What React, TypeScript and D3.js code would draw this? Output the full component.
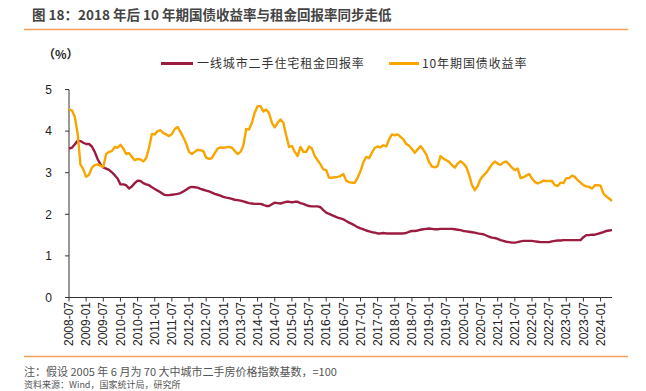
import React from 'react';
import * as d3 from 'd3';

// monthly, 2008-07 .. 2024-05
const rentYield = [
  3.58, 3.6, 3.68, 3.77, 3.76, 3.72, 3.69, 3.69, 3.63, 3.5, 3.33, 3.2,
  3.13, 3.1, 3.07, 3.01, 2.94, 2.86, 2.72, 2.72, 2.7, 2.62, 2.67, 2.75,
  2.81, 2.8, 2.75, 2.72, 2.7, 2.65, 2.61, 2.57, 2.53, 2.48, 2.46, 2.46,
  2.47, 2.48, 2.49, 2.51, 2.55, 2.59, 2.64, 2.66, 2.65, 2.64, 2.61, 2.59,
  2.57, 2.55, 2.52, 2.49, 2.47, 2.45, 2.42, 2.4, 2.39, 2.37, 2.35, 2.34,
  2.33, 2.31, 2.29, 2.27, 2.26, 2.25, 2.25, 2.25, 2.23, 2.2, 2.2, 2.24,
  2.28, 2.27, 2.26, 2.28, 2.3, 2.3, 2.29, 2.3, 2.3, 2.27, 2.25, 2.22,
  2.2, 2.19, 2.19, 2.19, 2.17, 2.1, 2.04, 2.01, 1.98, 1.95, 1.92, 1.9,
  1.88, 1.84, 1.8, 1.77, 1.73, 1.69, 1.66, 1.64, 1.61, 1.59, 1.57, 1.56,
  1.54, 1.54, 1.55, 1.54, 1.54, 1.54, 1.54, 1.54, 1.54, 1.54, 1.55, 1.58,
  1.6, 1.6, 1.61, 1.63, 1.64, 1.65, 1.66, 1.65, 1.64, 1.64, 1.65, 1.65,
  1.65, 1.65, 1.65, 1.64, 1.63, 1.62, 1.6, 1.59, 1.58, 1.57, 1.56, 1.54,
  1.53, 1.52, 1.49, 1.46, 1.44, 1.43, 1.41, 1.38, 1.36, 1.34, 1.33, 1.32,
  1.32, 1.33, 1.35, 1.36, 1.36, 1.36, 1.36, 1.35, 1.34, 1.33, 1.33, 1.33,
  1.33, 1.35, 1.36, 1.37, 1.37, 1.38, 1.38, 1.38, 1.38, 1.38, 1.38, 1.38,
  1.45, 1.5, 1.5, 1.51, 1.51, 1.53, 1.55, 1.57, 1.6, 1.61, 1.62,
];

const bondYield = [
  4.52, 4.5, 4.35, 3.95, 3.2, 3.08, 2.9, 2.95, 3.12, 3.18, 3.2, 3.17,
  3.14, 3.45, 3.5, 3.52, 3.62, 3.6, 3.67, 3.58, 3.45, 3.47, 3.38, 3.3,
  3.33, 3.32, 3.27, 3.35, 3.6, 3.93, 3.92, 4.0, 4.02, 3.95, 3.92, 3.88,
  3.93, 4.05, 4.1, 3.98, 3.85, 3.7, 3.5, 3.45, 3.5, 3.55, 3.54, 3.52,
  3.36, 3.33, 3.35, 3.47, 3.58, 3.61, 3.6, 3.61, 3.62, 3.6, 3.52, 3.45,
  3.5, 3.65, 4.05, 4.04, 4.2, 4.45, 4.6, 4.6, 4.47, 4.52, 4.43, 4.2,
  4.09, 4.2, 4.28, 4.2, 3.9, 3.62, 3.64, 3.5, 3.4, 3.62, 3.5, 3.5,
  3.63, 3.58, 3.4, 3.3, 3.2, 3.08, 3.06, 2.88, 2.88, 2.89, 2.9, 2.92,
  2.97, 2.81, 2.77, 2.76, 2.76, 2.88, 3.04, 3.25, 3.38, 3.35, 3.48, 3.6,
  3.63, 3.61, 3.66, 3.63, 3.8, 3.92, 3.9, 3.92, 3.86, 3.8, 3.69, 3.65,
  3.57, 3.48, 3.56, 3.64, 3.55, 3.44, 3.25, 3.15, 3.13, 3.16, 3.4, 3.34,
  3.3, 3.26, 3.18, 3.12, 3.22, 3.28, 3.22, 3.14, 2.95, 2.7, 2.58, 2.68,
  2.85, 2.93, 3.0, 3.1, 3.2, 3.27, 3.22, 3.19, 3.25, 3.27, 3.2, 3.12,
  3.06, 3.1, 2.87, 2.89, 2.93, 2.97, 2.86, 2.78, 2.74, 2.77, 2.81, 2.8,
  2.8, 2.8, 2.7, 2.68, 2.76, 2.75, 2.87, 2.87, 2.93, 2.9, 2.82, 2.76,
  2.7, 2.67, 2.66, 2.62, 2.7, 2.7, 2.69, 2.5, 2.43, 2.38, 2.32,
];

const tickLabels = [
  "2008-07", "2009-01", "2009-07", "2010-01", "2010-07", "2011-01", "2011-07", "2012-01",
  "2012-07", "2013-01", "2013-07", "2014-01", "2014-07", "2015-01", "2015-07", "2016-01",
  "2016-07", "2017-01", "2017-07", "2018-01", "2018-07", "2019-01", "2019-07", "2020-01",
  "2020-07", "2021-01", "2021-07", "2022-01", "2022-07", "2023-01", "2023-07", "2024-01",
];

const yTicks = [0, 1, 2, 3, 4, 5];

const seriesNames = ["一线城市二手住宅租金回报率", "10年期国债收益率"];
const colors = ["#9c1c40", "#f8a500"];

const App = () => {
  const width = 646;
  const height = 391;
  const x = d3.scaleLinear().domain([0, rentYield.length - 1]).range([69, 612]);
  const y = d3.scaleLinear().domain([0, 5]).range([297.5, 89.5]);

  const line = d3.line<number>()
    .x((d, i) => x(i))
    .y(d => y(d));

  const axisColor = "#333";
  const labelFont = "'Liberation Sans', Arial, sans-serif";
  const cjk = "'Noto Sans CJK SC', sans-serif";

  return (
    <svg width={width} height={height} style={{ position: "absolute", left: 0, top: 0, background: "#fff" }}>
      <text x={32} y={20} fontFamily={cjk} fontWeight="bold" fontSize={13.5} fill="#444">
        图 18：2018 年后 10 年期国债收益率与租金回报率同步走低
      </text>
      <line x1={24} x2={628} y1={29.5} y2={29.5} stroke="#f3a05a" strokeWidth={1.5} />

      <text x={43} y={59} fontFamily={cjk} fontWeight="bold" fontSize={12} fill="#222">（%）</text>

      {/* legend */}
      <line x1={161} x2={193} y1={63.5} y2={63.5} stroke={colors[0]} strokeWidth={3} />
      <text x={197} y={68} fontFamily={cjk} fontSize={12} letterSpacing={0.9} fill="#333">{seriesNames[0]}</text>
      <line x1={389} x2={419} y1={63.5} y2={63.5} stroke={colors[1]} strokeWidth={3} />
      <text x={422} y={68} fontFamily={cjk} fontSize={12} letterSpacing={0.9} fill="#333">{seriesNames[1]}</text>

      {/* y axis */}
      <line x1={69} x2={69} y1={y(5)} y2={y(0)} stroke={axisColor} strokeWidth={1} />
      {yTicks.map(t => (
        <g key={t}>
          <line x1={65} x2={69} y1={y(t)} y2={y(t)} stroke={axisColor} />
          <text x={52} y={y(t)} dy="0.35em" textAnchor="end" fontFamily={labelFont} fontSize={12} fill="#222">{t}</text>
        </g>
      ))}

      {/* x axis */}
      <line x1={69} x2={612} y1={y(0)} y2={y(0)} stroke={axisColor} strokeWidth={1} />
      {tickLabels.map((lab, i) => {
        const tx = x(i * 6);
        return (
          <g key={lab}>
            <line x1={tx} x2={tx} y1={y(0)} y2={y(0) + 4} stroke={axisColor} />
            <text
              transform={`translate(${tx},${302}) rotate(-90)`}
              dy="0.35em"
              textAnchor="end"
              fontFamily={labelFont}
              fontSize={12}
              fill="#222"
            >{lab}</text>
          </g>
        );
      })}

      <path d={line(rentYield) || ""} fill="none" stroke={colors[0]} strokeWidth={2.4} strokeLinejoin="round" />
      <path d={line(bondYield) || ""} fill="none" stroke={colors[1]} strokeWidth={2.4} strokeLinejoin="round" />

      <line x1={24} x2={628} y1={356.5} y2={356.5} stroke="#f3a05a" strokeWidth={1.5} />
      <text x={24} y={376} fontFamily={cjk} fontSize={11} fill="#555">
        注：假设 2005 年 6 月为 70 大中城市二手房价格指数基数，=100
      </text>
      <text x={24} y={388} fontFamily={cjk} fontSize={9} fill="#555">
        资料来源：Wind，国家统计局，研究所
      </text>
    </svg>
  );
};

export default App;
